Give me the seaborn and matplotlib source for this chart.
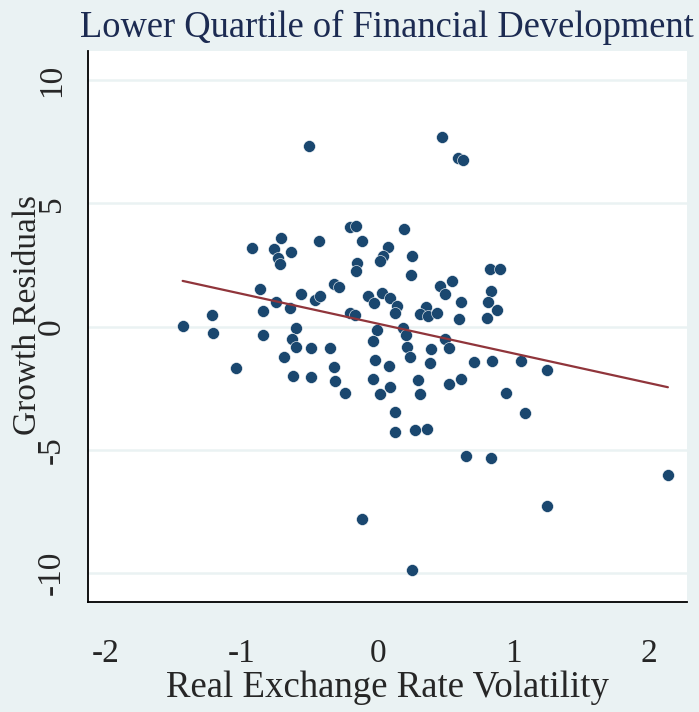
import numpy as np
import pandas as pd
import matplotlib
matplotlib.use("Agg")
import matplotlib.pyplot as plt
import seaborn as sns

# residuals
rer_volatility = [
    -0.507, -0.206, -0.159, 0.191, -0.713, -0.929, -0.765, -0.640, -0.434, -0.115,
    -0.733, -0.718, 0.078, 0.042, 0.015, -0.152, -0.157, -0.868, -0.319, -0.284,
    -0.561, -0.463, -0.426, -0.745, -0.649, -0.848, -0.069, -0.025, 0.034, 0.088,
    0.145, 0.125, -0.201, -0.169, 0.184, -1.436, -1.223, -1.213, -0.846, -0.603,
    -0.007, -0.632, -0.603, -0.493, -0.348, -0.034, -0.691, -0.324, -0.017, 0.081,
    -1.046, -0.625, -0.493, -0.311, -0.238, -0.034, 0.093, 0.015, 0.127, 0.127,
    -0.113, 0.475, 0.591, 0.630, 0.250, 0.248, 0.826, 0.904, 0.456, 0.544,
    0.495, 0.610, 0.831, 0.809, 0.882, 0.804, 0.598, 0.355, 0.311, 0.368,
    0.434, 0.211, 0.493, 0.524, 0.390, 0.218, 0.235, 0.385, 0.708, 0.841,
    1.054, 1.245, 0.299, 0.309, 0.527, 0.613, 0.944, 1.088, 0.277, 0.365,
    0.652, 0.836, 2.137, 1.250, 0.252,
]
growth_resid = [
    7.31, 4.05, 4.08, 3.95, 3.58, 3.20, 3.16, 3.04, 3.47, 3.46,
    2.80, 2.54, 3.22, 2.86, 2.66, 2.57, 2.26, 1.51, 1.74, 1.62,
    1.31, 1.07, 1.24, 0.99, 0.74, 0.64, 1.22, 0.96, 1.37, 1.15,
    0.84, 0.54, 0.57, 0.47, -0.05, 0.04, 0.45, -0.28, -0.34, -0.04,
    -0.13, -0.51, -0.81, -0.86, -0.86, -0.59, -1.23, -1.62, -1.34, -1.60,
    -1.69, -2.00, -2.04, -2.21, -2.69, -2.11, -2.44, -2.74, -3.46, -4.27,
    -7.82, 7.70, 6.84, 6.75, 2.86, 2.09, 2.35, 2.33, 1.65, 1.84,
    1.31, 1.01, 1.43, 0.99, 0.66, 0.34, 0.30, 0.79, 0.51, 0.43,
    0.57, -0.34, -0.50, -0.88, -0.90, -0.84, -1.24, -1.47, -1.42, -1.39,
    -1.40, -1.75, -2.15, -2.74, -2.31, -2.12, -2.70, -3.52, -4.19, -4.15,
    -5.25, -5.32, -6.00, -7.29, -9.85,
]
x_ticks = [-2, -1, 0, 1, 2]
y_ticks = [-10, -5, 0, 5, 10]

df = pd.DataFrame({"vol": rer_volatility, "resid": growth_resid})

bg = "#eaf2f3"
navy = "#1a476f"
maroon = "#90353b"

sns.set_style("white")
plt.rcParams["font.family"] = ["Liberation Serif", "DejaVu Serif"]

fig = plt.figure(figsize=(6.99, 7.12), dpi=100, facecolor=bg)
ax = fig.add_axes([0.1255, 0.154, 0.857, 0.775])
ax.set_facecolor("white")

sns.regplot(data=df, x="vol", y="resid", ci=None, ax=ax,
            scatter_kws={"s": 74, "color": navy, "edgecolor": "white",
                         "linewidths": 0.4, "alpha": 1, "zorder": 3},
            line_kws={"color": maroon, "linewidth": 1.6, "zorder": 4})

ax.set_xlim(-2.135, 2.276)
ax.set_ylim(-11.18, 11.19)
ax.set_xticks(x_ticks)
ax.set_yticks(y_ticks)
ax.set_xticklabels([str(v) for v in x_ticks], fontsize=24)
ax.set_yticklabels([str(v) for v in y_ticks], fontsize=24, rotation=90, va="center")
ax.tick_params(axis="x", direction="out", length=14, width=1.2, color="black", pad=12)
ax.tick_params(axis="y", direction="out", length=9, width=1.2, color="black", pad=6)
ax.yaxis.grid(True, color=bg, linewidth=1.8, zorder=0)
ax.xaxis.grid(False)
ax.set_axisbelow(True)

for side in ["top", "right"]:
    ax.spines[side].set_visible(False)
for side in ["left", "bottom"]:
    ax.spines[side].set_color("black")
    ax.spines[side].set_linewidth(1.3)

ax.set_xlabel("Real Exchange Rate Volatility", fontsize=26.5, labelpad=1)
ax.set_ylabel("Growth Residuals", fontsize=24)
ax.yaxis.set_label_coords(-0.075, 0.52)
ax.set_title("Lower Quartile of Financial Development", fontsize=26.3,
             color="#1c2b52", pad=10)

fig.savefig("out.png", dpi=100, facecolor=bg)
